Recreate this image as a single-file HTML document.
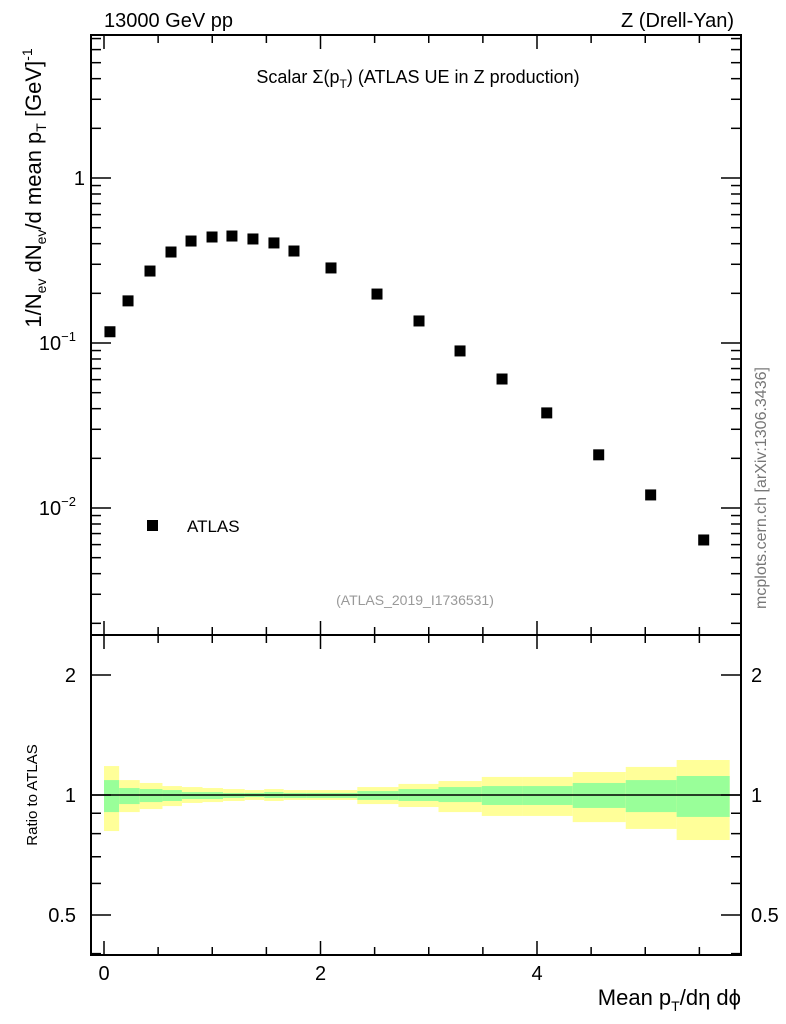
<!DOCTYPE html>
<html><head><meta charset="utf-8"><style>
body{margin:0;background:#fff;}
svg{display:block;font-family:"Liberation Sans",sans-serif;}
</style></head><body>
<svg id="c" width="786" height="1024" viewBox="0 0 786 1024">
<g id="bands"></g>
<g id="ticks"></g>
<g id="pts"></g>
<rect x="91" y="35" width="650" height="600" fill="none" stroke="#000" stroke-width="2"/>
<rect x="91" y="635" width="650" height="320" fill="none" stroke="#000" stroke-width="2"/>
<line x1="91" x2="741" y1="795" y2="795" stroke="#000" stroke-width="1.5"/>
<text x="104" y="27" font-size="20">13000 GeV pp</text>
<text x="734" y="27" font-size="20" text-anchor="end">Z (Drell-Yan)</text>
<text x="418" y="83" font-size="18" text-anchor="middle">Scalar Σ(p<tspan font-size="12" dy="5">T</tspan><tspan dy="-5">) (ATLAS UE in Z production)</tspan></text>
<text x="415" y="605" font-size="14" fill="#999" text-anchor="middle">(ATLAS_2019_I1736531)</text>
<rect x="147" y="520" width="11" height="11" fill="#000"/>
<text x="187" y="532" font-size="17">ATLAS</text>
<text transform="translate(41,188) rotate(-90)" font-size="22" text-anchor="middle">1/N<tspan font-size="14" dy="5">ev</tspan><tspan dy="-5"> dN</tspan><tspan font-size="14" dy="5">ev</tspan><tspan dy="-5">/d mean p</tspan><tspan font-size="14" dy="5">T</tspan><tspan dy="-5"> [GeV]</tspan><tspan font-size="14" dy="-9">-1</tspan></text>
<text transform="translate(37,795) rotate(-90)" font-size="15" text-anchor="middle">Ratio to ATLAS</text>
<text x="741" y="1005" font-size="22" text-anchor="end">Mean p<tspan font-size="14" dy="6">T</tspan><tspan dy="-6">/dη dϕ</tspan></text>
<text transform="translate(766,488) rotate(-90)" font-size="16" fill="#777" text-anchor="middle">mcplots.cern.ch [arXiv:1306.3436]</text>
</svg>
<script>
const xVals=[0.055,0.222,0.425,0.619,0.804,0.998,1.182,1.376,1.57,1.755,2.097,2.522,2.91,3.289,3.677,4.09,4.57,5.05,5.54];
const yVals=[0.117,0.180,0.273,0.356,0.415,0.439,0.445,0.427,0.404,0.361,0.285,0.198,0.136,0.0895,0.0605,0.0377,0.0210,0.0120,0.0064];
const binEdges=[0,0.14,0.33,0.54,0.72,0.91,1.10,1.30,1.48,1.66,1.87,2.34,2.72,3.09,3.49,3.87,4.33,4.82,5.29,5.78];
const yellowUp=[1.182,1.090,1.072,1.053,1.047,1.041,1.035,1.029,1.035,1.029,1.029,1.047,1.066,1.084,1.110,1.110,1.142,1.176,1.224];
const greenUp=[1.090,1.041,1.035,1.029,1.017,1.017,1.012,1.012,1.017,1.012,1.012,1.023,1.035,1.047,1.053,1.053,1.072,1.090,1.116];
const greenDn=[0.906,0.949,0.960,0.966,0.977,0.977,0.983,0.988,0.983,0.983,0.983,0.972,0.966,0.960,0.944,0.944,0.928,0.906,0.881];
const yellowDn=[0.812,0.906,0.922,0.938,0.955,0.960,0.966,0.972,0.966,0.972,0.972,0.949,0.933,0.906,0.886,0.886,0.855,0.822,0.771];
const xTicks=[0,2,4];
const yDecades=[1,0.1,0.01];
const rTicks=[0.5,1,2];
const NS='http://www.w3.org/2000/svg';
const X=v=>104+v*108.25;
const Y=v=>178-Math.log10(v)*165;
const R=v=>795-Math.log10(v)*398.6;
function mk(p,tag,a){const e=document.createElementNS(NS,tag);for(const k in a)e.setAttribute(k,a[k]);document.getElementById(p).appendChild(e);return e;}
for(let i=0;i<xVals.length;i++){
 const x0=X(binEdges[i]),x1=X(binEdges[i+1]);
 const y=mk('bands','rect',{x:x0,y:R(yellowUp[i]),width:x1-x0,height:R(yellowDn[i])-R(yellowUp[i]),fill:'#ffff99'});
 
 
 const g=mk('bands','rect',{x:x0,y:R(greenUp[i]),width:x1-x0,height:R(greenDn[i])-R(greenUp[i]),fill:'#99ff99'});
 
 
 const p=mk('pts','rect',{x:X(xVals[i])-5.5,y:Y(yVals[i])-5.5,width:11,height:11,fill:'#000'});
 
 
}
const tk=(x1,y1,x2,y2)=>mk('ticks','line',{x1,y1,x2,y2,stroke:'#000','stroke-width':1.5});
for(let v=0;v<=5.75;v+=0.5){const big=xTicks.includes(v),L=big?14:8,x=X(v);
 tk(x,635,x,635-L);tk(x,35,x,35+L);tk(x,955,x,955-L);tk(x,635,x,635+L);}
xTicks.forEach(v=>{const t=mk('ticks','text',{x:X(v),y:980,'font-size':20,'text-anchor':'middle'});t.textContent=v;
 
 });
for(let d=-3;d<=0;d++)for(let m=1;m<=9;m++){const v=m*Math.pow(10,d),y=Y(v);if(y<35||y>635)continue;const L=m==1?20:10;
 tk(91,y,91+L,y);tk(741,y,741-L,y);}
const yLab=['1','10','10'],ySup=['','−1','−2'];
yDecades.forEach((v,i)=>{const t=mk('ticks','text',{x:i?76:85,y:Y(v)+7,'font-size':20,'text-anchor':'end'});t.textContent=yLab[i];
 if(i){const s=document.createElementNS(NS,'tspan');s.setAttribute('font-size','13');s.setAttribute('dy','-9');s.textContent=ySup[i];t.appendChild(s);}
 
 });
[0.4,0.5,0.6,0.7,0.8,0.9,1,2].forEach(v=>{const y=R(v);if(y>955)return;const L=rTicks.includes(v)?20:10;tk(91,y,91+L,y);tk(741,y,741-L,y);});
rTicks.forEach(v=>{[[76,'end'],[751,'start']].forEach(([x,a])=>{const t=mk('ticks','text',{x,y:R(v)+7,'font-size':20,'text-anchor':a});t.textContent=v;
 
 });});
</script>
</body></html>
